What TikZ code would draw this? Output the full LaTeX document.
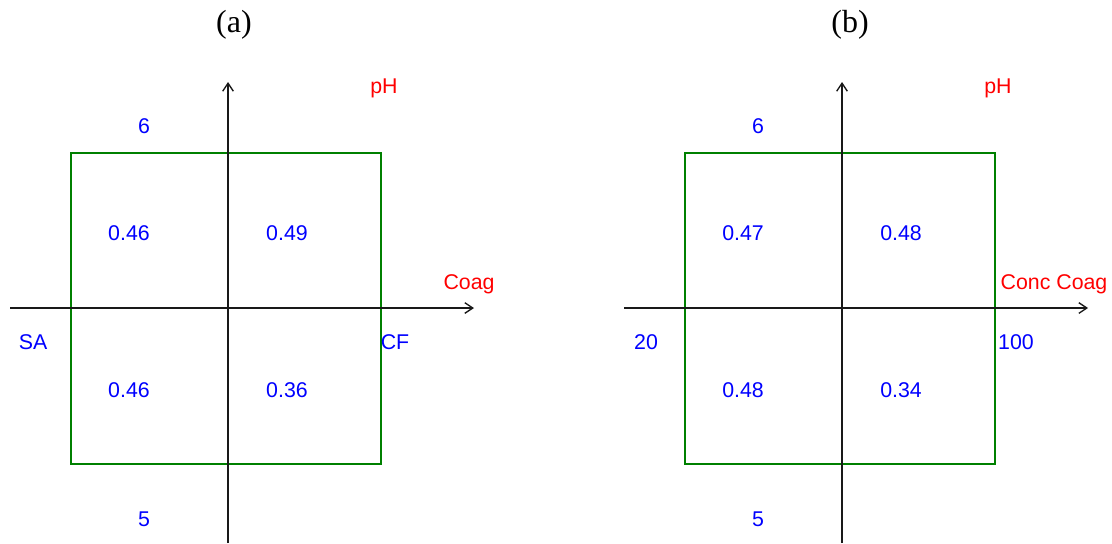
\documentclass[tikz,border=0pt]{standalone}
\usepackage{fontspec}
\setmainfont{Liberation Serif}
\newfontfamily\ecranfont{Liberation Sans}
\usetikzlibrary{arrows.meta,positioning}
\definecolor{vertCadre}{RGB}{0,128,0}
\definecolor{bleuVal}{RGB}{0,0,255}
\definecolor{rougeFact}{RGB}{255,0,0}

\begin{document}
\begin{tikzpicture}[x=0.75pt,y=-0.75pt,
  axe/.style={draw=black!90,line width=1pt,-{Straight Barb[length=6pt,width=8pt]}},
  zone/.style={rectangle,draw=vertCadre,line width=1pt,minimum width=232.5pt,
               minimum height=233.25pt,inner sep=0pt},
  valeur/.style={text=bleuVal,font=\ecranfont\fontsize{16}{19}\selectfont,inner sep=0pt},
  facteur/.style={text=rougeFact,font=\ecranfont\fontsize{16}{19}\selectfont,inner sep=0pt},
  titre/.style={font=\fontsize{24}{28}\selectfont,inner sep=0pt}]
  \useasboundingbox (0,0) rectangle (1112,543);

  % panneau (a)
  \node[titre] (aTitre) at (234,25) {(a)};
  \node[zone] (aZone) at (226,308.5) {};
  \coordinate (aBas) at (228,543);
  \coordinate (aHaut) at (228,82);
  \coordinate (aGauche) at (10,308);
  \coordinate (aDroite) at (474,308);
  \draw[axe] (aBas) -- (aHaut);
  \draw[axe] (aGauche) -- (aDroite);
  \node[facteur] (aPH) at (384,88) {pH};
  \node[facteur] (aCoag) at (469,284) {Coag};
  \node[valeur] (aHautNiv) at (144,126) {6};
  \node[valeur] (aBasNiv) at (144,519) {5};
  \node[valeur] (aSA) at (33,342) {SA};
  \node[valeur] (aCF) at (395,342) {CF};
  \node[valeur] (aHG) at (129,233) {0.46};
  \node[valeur] (aHD) at (287,233) {0.49};
  \node[valeur] (aBG) at (129,390) {0.46};
  \node[valeur] (aBD) at (287,390) {0.36};

  % panneau (b)
  \node[titre] (bTitre) at (850,25) {(b)};
  \node[zone] (bZone) at (840,308.5) {};
  \coordinate (bBas) at (842,543);
  \coordinate (bHaut) at (842,82);
  \coordinate (bGauche) at (624,308);
  \coordinate (bDroite) at (1088,308);
  \draw[axe] (bBas) -- (bHaut);
  \draw[axe] (bGauche) -- (bDroite);
  \node[facteur] (bPH) at (998,88) {pH};
  \node[facteur] (bCoag) at (1054,284) {Conc Coag};
  \node[valeur] (bHautNiv) at (758,126) {6};
  \node[valeur] (bBasNiv) at (758,519) {5};
  \node[valeur] (bMin) at (646,342) {20};
  \node[valeur] (bMax) at (1016,342) {100};
  \node[valeur] (bHG) at (743,233) {0.47};
  \node[valeur] (bHD) at (901,233) {0.48};
  \node[valeur] (bBG) at (743,390) {0.48};
  \node[valeur] (bBD) at (901,390) {0.34};
\end{tikzpicture}
\end{document}
